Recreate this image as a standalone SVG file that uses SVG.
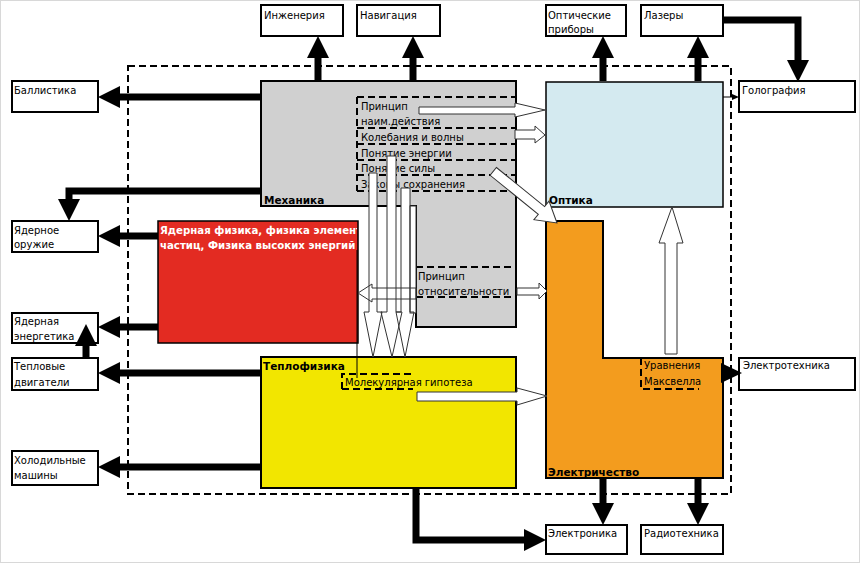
<svg xmlns="http://www.w3.org/2000/svg" width="861" height="565" viewBox="0 0 861 565">
<defs>
<marker id="ah" markerUnits="userSpaceOnUse" markerWidth="22" markerHeight="22" refX="0" refY="11" orient="auto"><path d="M0,0 L22,11 L0,22 z" fill="#000"/></marker>
<marker id="sm" markerUnits="userSpaceOnUse" markerWidth="7" markerHeight="6" refX="0" refY="3" orient="auto"><path d="M0,0 L7,3 L0,6 z" fill="#000"/></marker>
<clipPath id="redclip"><rect x="158" y="221" width="199" height="122"/></clipPath>
<style>
.t{font-family:"DejaVu Sans","Noto Sans",sans-serif;font-size:10px;fill:#000}
.b{font-family:"DejaVu Sans","Noto Sans",sans-serif;font-size:10.5px;font-weight:bold;fill:#000}
.w{font-family:"DejaVu Sans","Noto Sans",sans-serif;font-size:10.2px;font-weight:bold;fill:#fff}
.box{fill:#fff;stroke:#000;stroke-width:2}
.thick{fill:none;stroke:#000;stroke-width:7;marker-end:url(#ah)}
.dash{fill:none;stroke:#000;stroke-width:2;stroke-dasharray:7,4}
.hf{fill:#fff;stroke:none}
.ho{fill:none;stroke:#333;stroke-width:1}
</style>
</defs>
<rect x="0.5" y="0.5" width="859" height="562" fill="#fff" stroke="#d8d8d8" stroke-width="1"/>

<g id="frame"><rect x="128" y="66" width="603" height="428" class="dash" stroke-dasharray="8,4"/></g>

<g id="mechanics">
<path d="M261,81 H516 V327 H416 V206 H261 Z" fill="#d0d0d0" stroke="#000" stroke-width="2"/>
<text class="b" x="264" y="204">Механика</text>
</g>
<g id="concepts">
<path class="dash" d="M357,97 H516 M357,128 H516 M357,144 H516 M357,160 H516 M357,175 H516 M357,191 H516 M357,97 V191"/>
<text class="t" x="361" y="110">Принцип</text>
<text class="t" x="361" y="125">наим.действия</text>
<text class="t" x="361" y="141">Колебания и волны</text>
<text class="t" x="361" y="157">Понятие энергии</text>
<text class="t" x="361" y="172">Понятие силы</text>
<text class="t" x="361" y="188">Законы сохранения</text>
</g>
<g id="optics">
<rect x="546" y="82" width="177" height="125" fill="#d4eaf0" stroke="#000" stroke-width="1.5"/>
<text class="b" x="549" y="204">Оптика</text>
</g>
<g id="electricity">
<path d="M546,221 H603 V358 H723 V478 H546 Z" fill="#f39c1e" stroke="#000" stroke-width="2"/>
<text class="b" x="548" y="476">Электричество</text>
</g>
<g id="maxwell">
<path class="dash" d="M641,358 V389 H699"/>
<text class="t" x="644" y="369">Уравнения</text>
<text class="t" x="644" y="385">Максвелла</text>
</g>
<g id="nuclear">
<rect x="158" y="221" width="200" height="122" fill="#e32b22" stroke="#000" stroke-width="1.5"/>
<g clip-path="url(#redclip)">
<text class="w" x="160" y="234">Ядерная физика, физика элементарных</text>
<text class="w" x="160" y="249">частиц, Физика высоких энергий</text>
</g>
</g>
<g id="thermo">
<rect x="261" y="357" width="255" height="131" fill="#f2e600" stroke="#000" stroke-width="2"/>
<text class="b" x="263" y="370">Теплофизика</text>
<path class="dash" d="M342,389 V374 H413 M342,389 H413"/>
<text class="t" x="345" y="386">Молекулярная гипотеза</text>
</g>
<g id="relativity">
<path class="dash" d="M416,267 H516 M416,297 H516"/>
<text class="t" x="418" y="280">Принцип</text>
<text class="t" x="418" y="295">относительности</text>
</g>

<g id="n-engineering"><rect class="box" x="261" y="5" width="82" height="31"/><text class="t" x="264" y="19">Инженерия</text></g>
<g id="n-navigation"><rect class="box" x="357" y="5" width="83" height="31"/><text class="t" x="360" y="19">Навигация</text></g>
<g id="n-optdevices"><rect class="box" x="546" y="5" width="80" height="31"/><text class="t" x="548" y="19">Оптические</text><text class="t" x="548" y="33">приборы</text></g>
<g id="n-lasers"><rect class="box" x="641" y="5" width="82" height="31"/><text class="t" x="644" y="19">Лазеры</text></g>
<g id="n-holography"><rect class="box" x="739" y="81" width="116" height="31"/><text class="t" x="742" y="94">Голография</text></g>
<g id="n-ballistics"><rect class="box" x="12" y="81" width="86" height="31"/><text class="t" x="14" y="94">Баллистика</text></g>
<g id="n-weapons"><rect class="box" x="12" y="221" width="86" height="31"/><text class="t" x="14" y="234">Ядерное</text><text class="t" x="14" y="248">оружие</text></g>
<g id="n-energy"><rect class="box" x="12" y="313" width="86" height="30"/><text class="t" x="14" y="325">Ядерная</text><text class="t" x="14" y="340">энергетика</text></g>
<g id="n-engines"><rect class="box" x="12" y="358" width="86" height="32"/><text class="t" x="14" y="370">Тепловые</text><text class="t" x="14" y="386">двигатели</text></g>
<g id="n-fridges"><rect class="box" x="12" y="451" width="86" height="34"/><text class="t" x="14" y="464">Холодильные</text><text class="t" x="14" y="479">машины</text></g>
<g id="n-electrotech"><rect class="box" x="739" y="358" width="116" height="32"/><text class="t" x="743" y="369">Электротехника</text></g>
<g id="n-electronics"><rect class="box" x="546" y="525" width="81" height="29"/><text class="t" x="548" y="537">Электроника</text></g>
<g id="n-radio"><rect class="box" x="641" y="525" width="82" height="29"/><text class="t" x="644" y="537">Радиотехника</text></g>

<g id="connectors">
<path class="thick" d="M261,97 H120"/>
<path class="thick" d="M261,191 H69 V199" stroke-linejoin="miter"/>
<path class="thick" d="M158,236 H120"/>
<path class="thick" d="M158,327 H120"/>
<path class="thick" d="M86,358 V346"/>
<path class="thick" d="M261,373 H120"/>
<path class="thick" d="M261,467 H120"/>
<path class="thick" d="M318,81 V58"/>
<path class="thick" d="M413,81 V58"/>
<path class="thick" d="M603,81 V58"/>
<path class="thick" d="M698,81 V58"/>
<path class="thick" d="M723,20 H798 V60"/>
<path class="thick" d="M603,478 V503"/>
<path class="thick" d="M698,478 V503"/>
<path class="thick" d="M416,488 V540 H524"/>
<path d="M723,97 H732" stroke="#000" stroke-width="1" marker-end="url(#sm)"/>
<path d="M721,363 L742,373 L721,383 Z" fill="#000"/>
<line x1="357" y1="250" x2="357" y2="378" stroke="#000" stroke-width="1"/>

<g id="hollow-fill">
<path class="hf" d="M419,107 H515 V103 L545,110 L515,117 V114 H419 Z"/>
<path class="hf" d="M515,130 H535 V126 L545,135 L535,143 V139 H515 Z"/>
<path class="hf" transform="translate(557,223) rotate(39)" d="M-82,-5 H-20 V-12 L0,0 L-20,12 V5 H-82 Z"/>
<path class="hf" d="M369,173 H377 V312 H382 L373,357 L364,312 H369 Z"/>
<path class="hf" d="M387,156 H396 V312 H402 L392,357 L381,312 H387 Z"/>
<path class="hf" d="M401,188 H410 V312 H414 L405,357 L396,312 H401 Z"/>
<rect class="hf" x="410" y="206" width="6" height="107"/>
<path class="hf" d="M416,288 H372 V284 L358,293 L372,302 V299 H416 Z"/>
<path class="hf" d="M517,288 H539 V283 L547,291 L539,299 V295 H517 Z"/>
<path class="hf" d="M417,392 H517 V388 L547,396 L517,405 V401 H417 Z"/>
<path class="hf" d="M665,354 V243 H659 L672,207 L683,243 H677 V354 Z"/>
</g>
<g id="hollow-outline">
<path class="ho" d="M419,107 H515 V103 L545,110 L515,117 V114 H419 Z"/>
<path class="ho" stroke="#888" stroke-width="1.5" d="M515,130 H535 V126 L545,135 L535,143 V139 H515 Z"/>
<path class="ho" transform="translate(557,223) rotate(39)" d="M-82,-5 H-20 V-12 L0,0 L-20,12 V5 H-82 Z"/>
<path class="ho" d="M369,173 H377 V312 H382 L373,357 L364,312 H369 Z"/>
<path class="ho" d="M387,156 H396 V312 H402 L392,357 L381,312 H387 Z"/>
<path class="ho" d="M401,188 H410 V312 H414 L405,357 L396,312 H401 Z"/>
<rect class="ho" x="410" y="206" width="6" height="107"/>
<path class="ho" d="M416,288 H372 V284 L358,293 L372,302 V299 H416 Z"/>
<path class="ho" d="M517,288 H539 V283 L547,291 L539,299 V295 H517 Z"/>
<path class="ho" d="M417,392 H517 V388 L547,396 L517,405 V401 H417 Z"/>
<path class="ho" d="M665,354 V243 H659 L672,207 L683,243 H677 V354 Z"/>
</g>
</g>
</svg>
